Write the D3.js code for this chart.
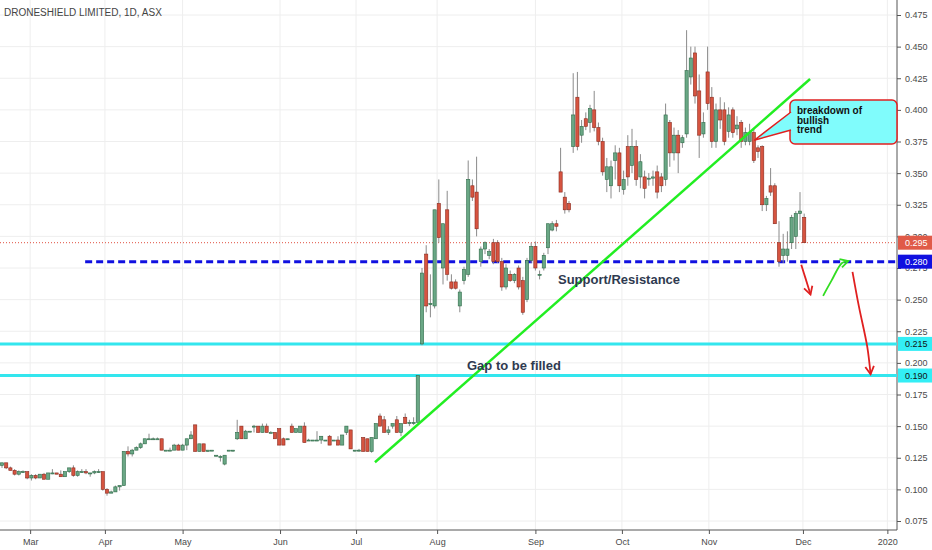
<!DOCTYPE html>
<html><head><meta charset="utf-8">
<script src="https://cdn.jsdelivr.net/npm/d3@7"></script>
<style>body{margin:0;background:#fff}svg{display:block;font-family:"Liberation Sans",Arial,sans-serif}</style>
</head><body><svg id="c" width="932" height="550"></svg>
<script>
// candles in thousandths: [open, high, low, close], one per trading day
const candles = [
 [119,121,117,121],[121,121,116,117],[117,118,115,115],[115,116,111,112],[112,115,111,114],[114,115,113,114],[114,114,108,109],[109,112,107,111],[111,112,108,109],[109,112,109,112],[112,113,108,108],[108,113,108,113],[113,116,112,113],[113,113,112,112],[112,115,110,110],[110,114,110,114],[114,117,113,117],[117,119,110,111],[111,115,110,114],[114,116,113,114],[114,116,112,113],[113,113,110,113],[113,115,112,114],[114,116,113,114],[114,114,99,100],
 [100,101,95,97],[97,99,97,98],[98,103,98,102],[102,103,99,103],[103,130,103,130],[130,134,126,128],[128,132,126,131],[131,134,131,133],[133,137,132,136],[136,140,136,140],[140,144,139,140],[140,141,139,140],[140,141,140,140],[140,140,131,131],[131,131,131,131],[131,133,131,131],[131,136,131,135],[135,136,131,131],[131,136,131,135],
 [135,140,131,140],[140,146,140,143],[151,151,130,130],[130,136,130,136],[136,136,130,130],[130,131,130,131],[131,131,131,131],[127,127,126,127],[126,127,122,126],[120,127,119,127],[131,131,131,131],[131,131,130,131],[140,155,139,145],[150,150,140,140],[140,147,140,146],[146,146,146,146],[150,151,145,150],[150,150,145,145],[145,152,145,150],[150,152,145,145],[145,146,145,145],[145,145,140,140],
 [148,148,135,135],[140,141,135,135],[140,140,139,140],[150,152,145,145],[145,148,145,148],[145,150,145,150],[150,153,137,137],[139,140,139,139],[139,139,139,139],[139,146,139,139],[139,142,136,142],[139,139,139,139],[142,143,135,135],[139,139,139,139],[139,142,135,135],[135,143,135,143],[145,150,143,150],[147,147,132,132],
 [131,131,130,131],[131,132,130,131],[141,141,130,130],[140,140,130,130],[130,141,129,141],[140,152,140,152],[158,160,150,150],[155,158,145,145],[145,150,143,147],[150,152,148,152],[155,158,145,145],[145,152,142,152],[157,160,152,152],[152,155,150,153],[152,157,151,153],[153,190,153,190],
 [215,275,214,271],[286,293,240,245],[246,270,236,247],[245,321,243,321],[326,345,295,299],[275,310,262,310],[321,336,265,270],[264,270,258,259],[264,266,258,259],[245,258,240,256],
 [265,276,262,274],[270,360,268,345],[340,345,328,331],[335,363,300,306],[280,292,276,290],[290,296,286,295],[285,290,282,288],[295,298,278,280],[295,297,279,280],[280,283,257,260],
 [260,278,258,275],[270,273,264,265],[265,271,263,270],[275,277,258,260],[265,268,238,240],[250,283,248,281],[281,295,279,292],[292,296,273,275],[270,273,266,270],[275,287,273,285],
 [291,310,286,310],[305,312,304,310],[310,313,304,308],[351,370,348,335],[331,335,318,321],[326,328,319,321],
 [371,429,366,396],[410,430,368,371],[380,392,374,387],[393,398,384,387],[390,404,382,401],[400,415,383,386],[386,390,372,375],[375,378,348,351],[345,362,335,355],[340,360,330,355],
 [360,372,345,366],[366,370,335,340],[337,352,333,345],[371,380,340,347],[356,385,350,371],[371,376,340,345],[347,365,338,359],[347,352,330,338],[346,350,340,346],[346,352,340,347],
 [351,356,330,335],[347,350,335,340],[345,405,340,396],[390,392,355,366],[366,386,360,380],[380,384,350,366],[374,380,370,378],[381,463,378,431],[426,450,420,441],[445,450,405,411],
 [415,428,362,380],[381,398,378,390],[430,450,400,405],[410,418,370,375],[375,405,370,400],[400,410,385,392],[400,406,372,375],[383,402,378,396],[400,402,378,382],[385,395,380,388],
 [390,392,370,375],[375,386,372,382],[375,389,372,382],[382,385,358,360],[370,372,362,367],[371,372,320,325],[325,332,320,330],[340,354,332,335],[340,342,310,310],[295,312,276,280],
 [285,302,279,290],[285,304,280,290],[295,317,290,315],[300,320,290,318],[318,335,305,320],[315,318,295,295]
];
const monthLabels = ["Mar","Apr","May","Jun","Jul","Aug","Sep","Oct","Nov","Dec","2020"];
const monthIndex = [6.7, 24.5, 43, 66.2, 84.3, 103.6, 127, 147.6, 168.3, 190.7, 210.8];
const priceTicks = d3.range(0.075, 0.4751, 0.025);
const lastPrice = 0.295, supportLevel = 0.280;
const gapLevels = [0.215, 0.190];
const trendLine = [[88.8, 0.1214], [192.4, 0.4244]];

const svg = d3.select("#c");
const W = 932, plotR = 897, plotB = 530;
const x = d3.scaleLinear().domain([0, 1]).range([2, 6.2]);
const y = d3.scaleLinear().domain([0.075, 0.475]).range([521, 15]);

// grid
const g = svg.append("g");
g.selectAll(".hg").data(priceTicks).join("line")
  .attr("x1", 0).attr("x2", plotR).attr("y1", d => y(d)).attr("y2", d => y(d))
  .attr("stroke", "#eeeeee");
g.selectAll(".vg").data(monthIndex).join("line")
  .attr("x1", d => x(d)).attr("x2", d => x(d)).attr("y1", 0).attr("y2", plotB)
  .attr("stroke", "#eeeeee");

// borders & axes
svg.append("line").attr("x1", plotR).attr("x2", plotR).attr("y1", 0).attr("y2", plotB).attr("stroke", "#555");
svg.append("line").attr("x1", 0).attr("x2", plotR).attr("y1", plotB).attr("y2", plotB).attr("stroke", "#555");
const yAxis = d3.axisRight(y).tickValues(priceTicks).tickFormat(d3.format(".3f")).tickSize(4);
const ya = svg.append("g").attr("transform", `translate(${plotR},0)`).call(yAxis);
ya.select(".domain").remove();
ya.selectAll("text").attr("fill", "#4a4a4a").style("font-size", "9px").attr("x", 8);
ya.selectAll("line").attr("stroke", "#555");
const xAxis = d3.axisBottom(x).tickValues(monthIndex).tickFormat((d, i) => monthLabels[i]).tickSize(4);
const xa = svg.append("g").attr("transform", `translate(0,${plotB})`).call(xAxis);
xa.select(".domain").remove();
xa.selectAll("text").attr("fill", "#4a4a4a").style("font-size", "9px").attr("dy", "0.9em");
xa.selectAll("line").attr("stroke", "#555");

// gap / support lines
svg.append("line").attr("x1", 0).attr("x2", plotR).attr("y1", y(lastPrice)).attr("y2", y(lastPrice))
  .attr("stroke", "#e05040").attr("stroke-dasharray", "1,2").attr("stroke-width", 1);
svg.selectAll(".gap").data(gapLevels).join("line")
  .attr("x1", 0).attr("x2", plotR).attr("y1", d => y(d)).attr("y2", d => y(d))
  .attr("stroke", "#33e6ee").attr("stroke-width", 3);
svg.append("line").attr("x1", x(19.8)).attr("x2", plotR).attr("y1", y(supportLevel)).attr("y2", y(supportLevel))
  .attr("stroke", "#1010e0").attr("stroke-width", 3).attr("stroke-dasharray", "7,4");

// candles
const cg = svg.append("g");
const k = v => y(v / 1000);
cg.selectAll(".w").data(candles).join("line")
  .attr("x1", (d, i) => x(i)).attr("x2", (d, i) => x(i))
  .attr("y1", d => k(d[1])).attr("y2", d => k(d[2])).attr("stroke", "#8a8a8a");
cg.selectAll(".b").data(candles).join("rect")
  .attr("x", (d, i) => x(i) - 1.6).attr("width", 3.2)
  .attr("y", d => Math.min(k(d[0]), k(d[3])))
  .attr("height", d => Math.max(1, Math.abs(k(d[0]) - k(d[3]))))
  .attr("fill", d => d[3] >= d[0] ? "#6aa785" : "#d65440")
  .attr("stroke", d => d[3] >= d[0] ? "#2e6b48" : "#8a2a1e").attr("stroke-width", 0.6);

// trend line
svg.append("line").attr("x1", x(trendLine[0][0])).attr("y1", y(trendLine[0][1]))
  .attr("x2", x(trendLine[1][0])).attr("y2", y(trendLine[1][1]))
  .attr("stroke", "#22ee22").attr("stroke-width", 2.5);

// arrows
const arrow = (pts, color) => {
  svg.append("path").attr("d", d3.line().curve(d3.curveCatmullRom)(pts))
    .attr("fill", "none").attr("stroke", color).attr("stroke-width", 1.8);
  const [a, b] = pts.slice(-2);
  const ang = Math.atan2(b[1] - a[1], b[0] - a[0]);
  const hl = 9;
  const h = [-0.5, 0.5].map(s => [b[0] - hl * Math.cos(ang + s), b[1] - hl * Math.sin(ang + s)]);
  svg.append("path").attr("d", `M${h[0]}L${b}L${h[1]}`).attr("fill", "none")
    .attr("stroke", color).attr("stroke-width", 1.8);
};
arrow([[x(190.3), y(0.2775)], [x(191.3), y(0.267)], [x(192.5), y(0.254)]], "#e02020");
arrow([[x(195.5), y(0.253)], [x(197.5), y(0.265)], [x(200), y(0.279)], [x(201.5), y(0.2805)]], "#33dd22");
arrow([[x(202.5), y(0.272)], [x(204), y(0.245)], [x(206), y(0.213)], [x(206.8), y(0.191)]], "#e02020");

// callout
const cb = svg.append("g");
cb.append("path")
  .attr("d", `M${x(188.5)},${y(0.3935)} L${x(188.5)},${y(0.3935)}`)
cb.append("rect").attr("x", 790).attr("y", 100).attr("width", 107).attr("height", 44).attr("rx", 5)
  .attr("fill", "#80fcfc").attr("stroke", "#e02020").attr("stroke-width", 1.5);
cb.append("path").attr("d", `M791,112 L${x(179.1)},${y(0.376)} L791,130`)
  .attr("fill", "#80fcfc").attr("stroke", "#e02020").attr("stroke-width", 1.5);
cb.append("rect").attr("x", 790.5).attr("y", 113).attr("width", 3).attr("height", 16).attr("fill", "#80fcfc");
cb.selectAll("text").data(["breakdown of", "bullish", "trend"]).join("text")
  .attr("x", 797).attr("y", (d, i) => 114 + i * 9.5).text(d => d)
  .style("font-size", "10px").style("font-weight", "bold").attr("fill", "#111");

// labels
svg.append("text").attr("x", 558).attr("y", 284).text("Support/Resistance")
  .style("font-size", "13px").style("font-weight", "bold").attr("fill", "#2f3a50");
svg.append("text").attr("x", 467).attr("y", 370).text("Gap to be filled")
  .style("font-size", "13px").style("font-weight", "bold").attr("fill", "#2f3a50");
svg.append("text").attr("x", 4).attr("y", 16).text("DRONESHIELD LIMITED, 1D, ASX")
  .style("font-size", "10px").attr("fill", "#444");

// price tags
const tags = [[lastPrice, "#e05a48", "#fff"], [supportLevel, "#1010e0", "#fff"], [gapLevels[0], "#33eef5", "#111"], [gapLevels[1], "#33eef5", "#111"]];
tags.forEach(([v, bg, fg]) => {
  svg.append("rect").attr("x", plotR + 1).attr("y", y(v) - 7).attr("width", 34).attr("height", 14).attr("fill", bg);
  svg.append("text").attr("x", plotR + 8).attr("y", y(v) + 3.5).text(v.toFixed(3))
    .style("font-size", "9px").attr("fill", fg);
});
</script></body></html>
